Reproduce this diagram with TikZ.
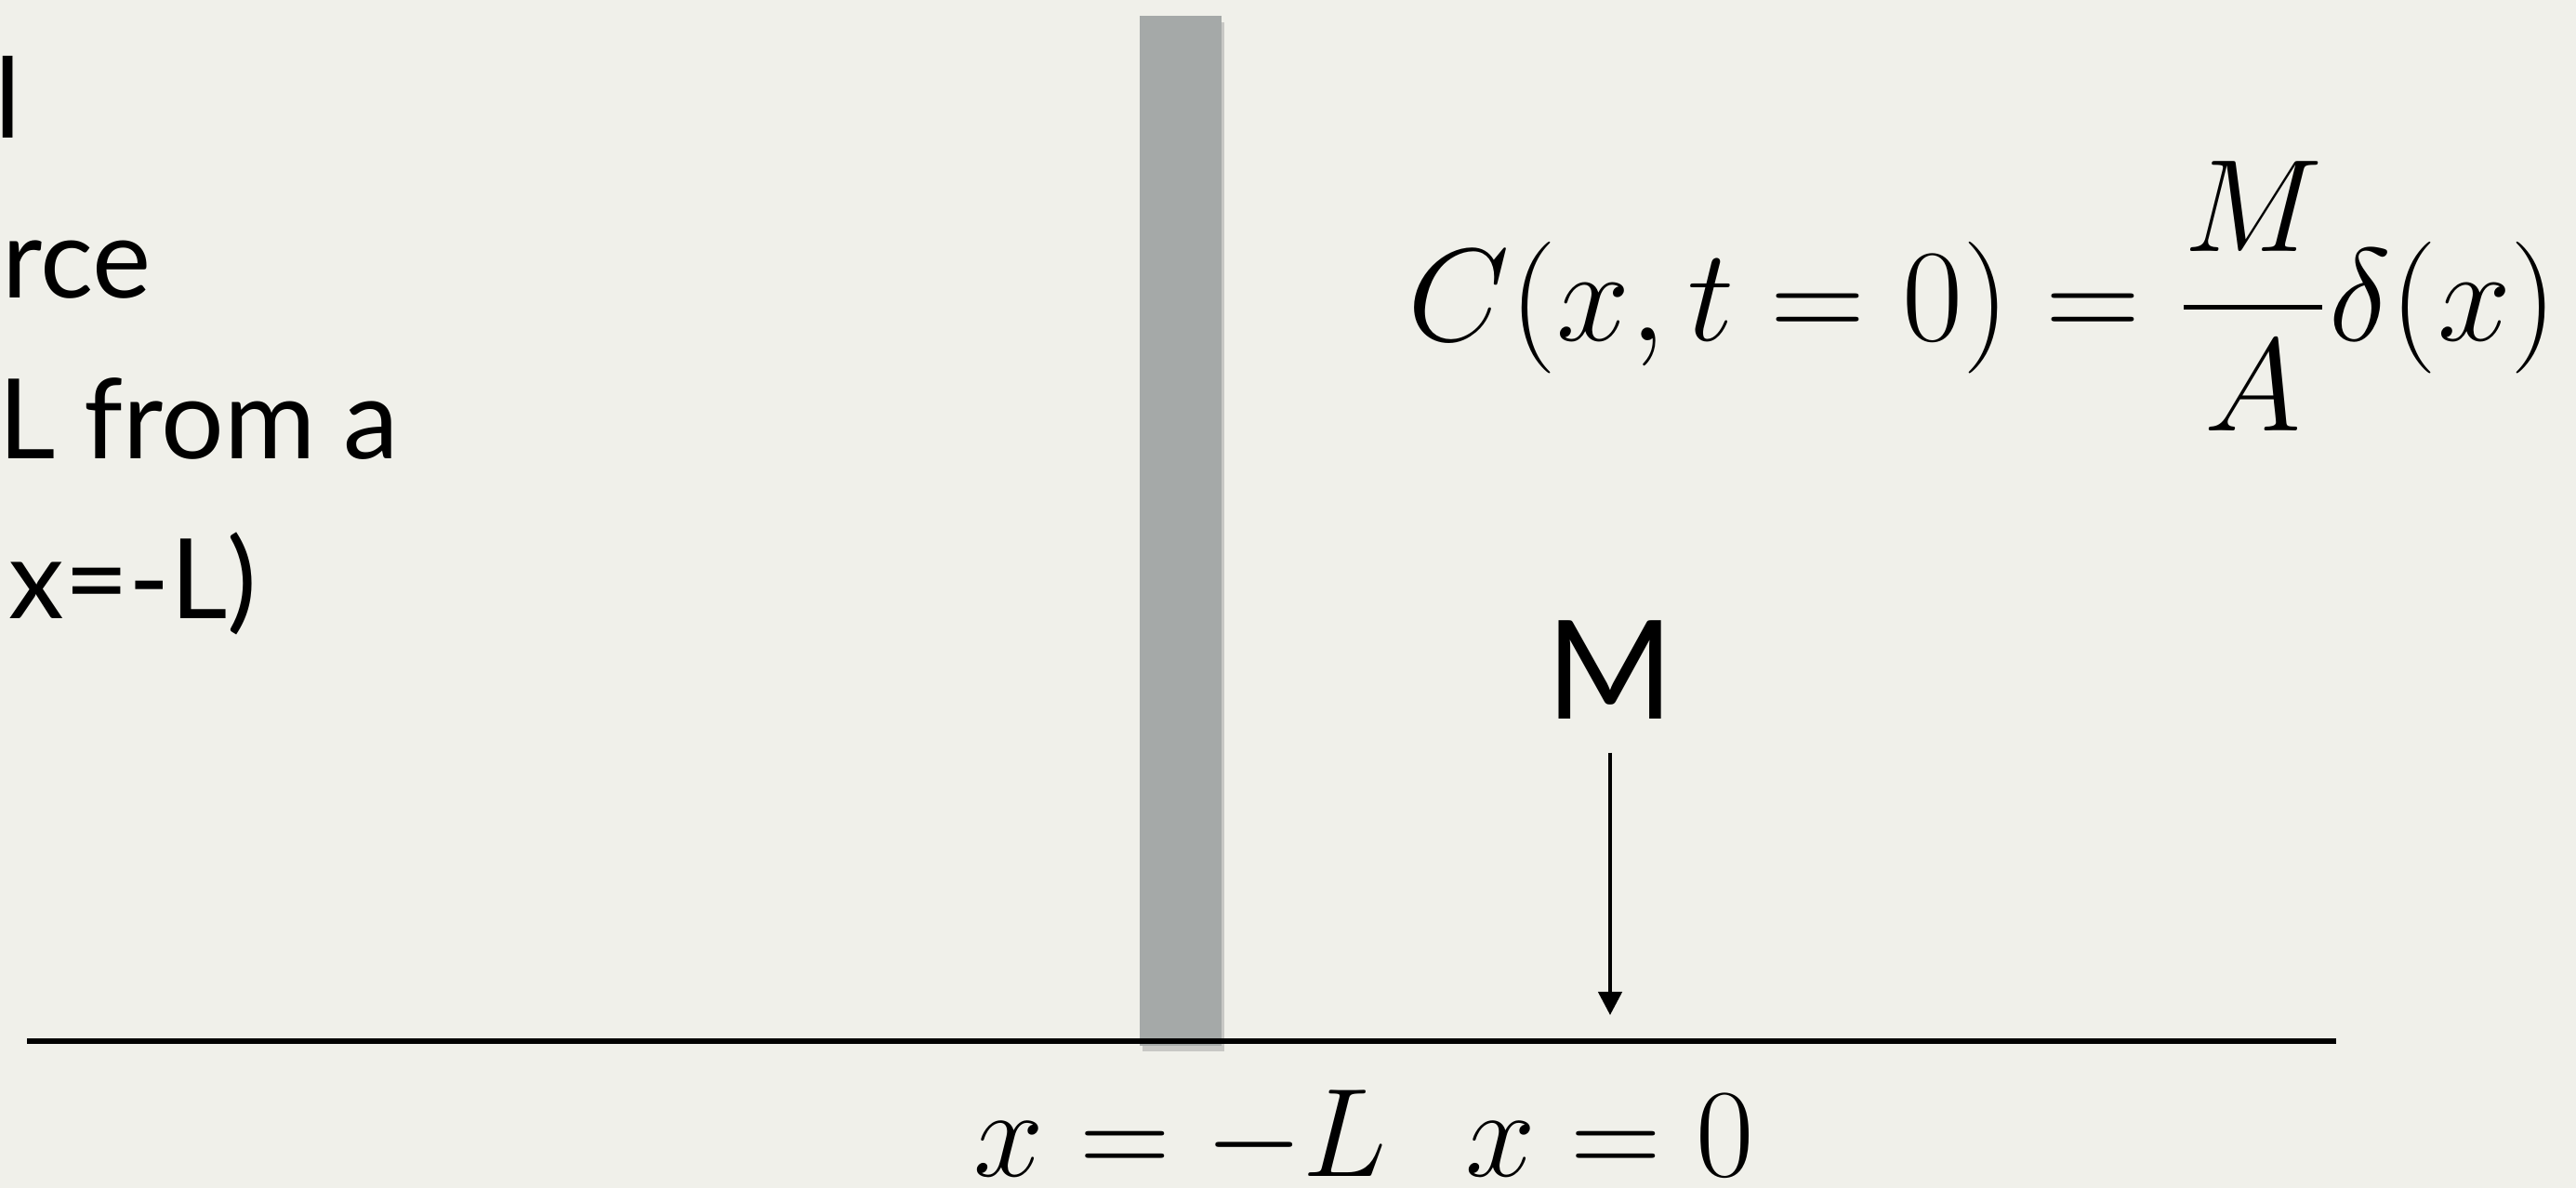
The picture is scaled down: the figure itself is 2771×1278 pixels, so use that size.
\documentclass[tikz,border=0pt]{standalone}
\usepackage{amsmath}
\usepackage{graphicx}
\usepackage{fontspec}
\newfontfamily\lato{Lato}
\usepackage{tikz}
\usetikzlibrary{arrows.meta,positioning,shadows}
\definecolor{paper}{RGB}{240,240,234}
\definecolor{wallgray}{RGB}{165,169,168}

\begin{document}
\begin{tikzpicture}[x=0.01cm, y=-0.01cm, >={Triangle[length=2.5mm,width=2.5mm]},
  note/.style={font=\lato\fontsize{34}{40}\selectfont, inner sep=0pt, anchor=base east},
  mathlbl/.style={font=\Huge, inner sep=0pt, anchor=base},
  wall/.style={fill=wallgray, minimum width=8.8mm, minimum height=110.7mm, inner sep=0pt,
               drop shadow={shadow xshift=0.8pt, shadow yshift=-1.8pt, opacity=0.35}}]
  \fill[paper] (0,0) rectangle (2771,1278);
  \useasboundingbox (0,0) rectangle (2771,1278);
  % text on the left, cut off by the frame
  \node[note] (l1) at (23,148) {al};
  \node[note] (l2) at (163,320) {urce};
  \node[note] (l3) at (430,493) {L from a};
  \node[note] (l4) at (277,665) {x=-L)};
  % wall and axis
  \node[wall] (wall) at (1270,571) {};
  \coordinate (axL) at (29,1120);
  \coordinate (axR) at (2513,1120);
  \draw[line width=1.7pt] (axL) -- (axR);
  % mass released at x=0
  \node[font=\lato\fontsize{42}{50}\selectfont, inner sep=0pt, anchor=base] (mass) at (1732,773) {M};
  \coordinate (src) at (mass |- axL);
  \draw[->, line width=1.25pt, shorten <=3.6mm, shorten >=2.8mm] (mass.south) -- (src);
  \node[mathlbl] (xwall) at (1270,1265) {\scalebox{1.55}{$x=-L$}};
  \node[mathlbl] (xorig) at (1732,1265) {\scalebox{1.55}{$x=0$}};
  \node[font=\Huge, inner sep=0pt, anchor=base west] (init) at (1514,366)
    {\scalebox{1.62}{$\displaystyle C(x,t=0) = \frac{M}{A}\delta(x)$}};
\end{tikzpicture}
\end{document}
